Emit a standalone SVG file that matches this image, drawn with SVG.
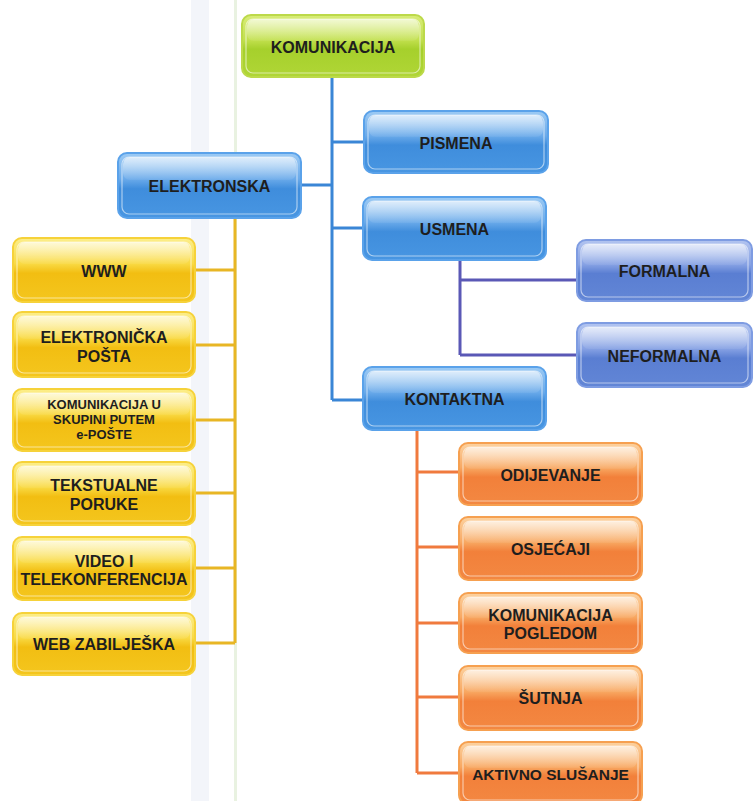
<svg xmlns="http://www.w3.org/2000/svg" width="753" height="801" viewBox="0 0 753 801">
<defs>
<linearGradient id="gGreen" x1="0" y1="0" x2="0" y2="1">
<stop offset="0" stop-color="#d8ec78"/><stop offset="0.4" stop-color="#c2e04e"/><stop offset="0.55" stop-color="#a6d02c"/><stop offset="1" stop-color="#b0d636"/>
</linearGradient>
<linearGradient id="gBlue" x1="0" y1="0" x2="0" y2="1">
<stop offset="0" stop-color="#9ccaf4"/><stop offset="0.4" stop-color="#6aaaea"/><stop offset="0.55" stop-color="#3f8ddc"/><stop offset="1" stop-color="#4896e2"/>
</linearGradient>
<linearGradient id="gViolet" x1="0" y1="0" x2="0" y2="1">
<stop offset="0" stop-color="#b2c4f0"/><stop offset="0.4" stop-color="#87a2e4"/><stop offset="0.55" stop-color="#5a7ed2"/><stop offset="1" stop-color="#6286d6"/>
</linearGradient>
<linearGradient id="gYellow" x1="0" y1="0" x2="0" y2="1">
<stop offset="0" stop-color="#fcee8a"/><stop offset="0.4" stop-color="#f9da44"/><stop offset="0.55" stop-color="#f2be12"/><stop offset="1" stop-color="#f4c61e"/>
</linearGradient>
<linearGradient id="gOrange" x1="0" y1="0" x2="0" y2="1">
<stop offset="0" stop-color="#fcd2a0"/><stop offset="0.4" stop-color="#f8a862"/><stop offset="0.55" stop-color="#f2803a"/><stop offset="1" stop-color="#f38842"/>
</linearGradient>
<linearGradient id="gloss" x1="0" y1="0" x2="0" y2="1">
<stop offset="0" stop-color="#ffffff" stop-opacity="0.7"/><stop offset="1" stop-color="#ffffff" stop-opacity="0.05"/>
</linearGradient>
<style>
.box{stroke-width:2}
.green{fill:url(#gGreen);stroke:#bcd94a}
.blue{fill:url(#gBlue);stroke:#5aa2ea}
.violet{fill:url(#gViolet);stroke:#7e9ce2}
.yellow{fill:url(#gYellow);stroke:#f6d23a}
.orange{fill:url(#gOrange);stroke:#f6a050}
.inner{fill:none;stroke:#ffffff;stroke-opacity:0.55;stroke-width:1.2}
.gl{fill:url(#gloss)}
text{font-family:"Liberation Sans",Arial,sans-serif;font-weight:bold;font-size:16px;fill:#1e1e1e;text-anchor:middle}
.sm{font-size:13px}
.cb{stroke:#3a86d6;stroke-width:3;fill:none}
.cv{stroke:#5a58b6;stroke-width:3;fill:none}
.cy{stroke:#e8b624;stroke-width:3;fill:none}
.co{stroke:#f07a3e;stroke-width:3;fill:none}
</style>
</defs>
<rect x="0" y="0" width="753" height="801" fill="#ffffff"/>
<rect x="191" y="0" width="18" height="801" fill="#f3f5fa"/>
<rect x="234" y="0" width="3" height="801" fill="#e9f2e1"/>

<g id="connectors">
<path class="cb" d="M332 77V400M332 142H364M301 185H332M332 228H363M332 400H363"/>
<path class="cv" d="M460 260V355M460 280H577M460 355H577"/>
<path class="cy" d="M235 218V643M195 270H235M195 345H235M195 420H235M195 493H235M195 568H235M195 643H235"/>
<path class="co" d="M417 430V773M417 472H459M417 547H459M417 623H459M417 697H459M417 773H459"/>
</g>

<g id="komunikacija">
<rect class="box green" x="242" y="15" width="182" height="62" rx="9"/>
<rect class="inner" x="246" y="19" width="174" height="54" rx="7"/>
<rect class="gl" x="247" y="19" width="172" height="22" rx="7"/>
<text x="333" y="53">KOMUNIKACIJA</text>
</g>

<g id="pismena">
<rect class="box blue" x="364" y="111" width="184" height="62" rx="9"/>
<rect class="inner" x="368" y="115" width="176" height="54" rx="7"/>
<rect class="gl" x="369" y="115" width="174" height="22" rx="7"/>
<text x="456" y="149">PISMENA</text>
</g>

<g id="elektronska">
<rect class="box blue" x="118" y="153" width="183" height="65" rx="9"/>
<rect class="inner" x="122" y="157" width="175" height="57" rx="7"/>
<rect class="gl" x="123" y="157" width="173" height="23" rx="7"/>
<text x="209.5" y="192">ELEKTRONSKA</text>
</g>

<g id="usmena">
<rect class="box blue" x="363" y="197" width="183" height="63" rx="9"/>
<rect class="inner" x="367" y="201" width="175" height="55" rx="7"/>
<rect class="gl" x="368" y="201" width="173" height="22" rx="7"/>
<text x="454.5" y="235">USMENA</text>
</g>

<g id="formalna">
<rect class="box violet" x="577" y="240" width="175" height="61" rx="9"/>
<rect class="inner" x="581" y="244" width="167" height="53" rx="7"/>
<rect class="gl" x="582" y="244" width="165" height="21" rx="7"/>
<text x="664.5" y="277">FORMALNA</text>
</g>

<g id="neformalna">
<rect class="box violet" x="577" y="323" width="175" height="64" rx="9"/>
<rect class="inner" x="581" y="327" width="167" height="56" rx="7"/>
<rect class="gl" x="582" y="327" width="165" height="22" rx="7"/>
<text x="664.5" y="362">NEFORMALNA</text>
</g>

<g id="kontaktna">
<rect class="box blue" x="363" y="367" width="183" height="63" rx="9"/>
<rect class="inner" x="367" y="371" width="175" height="55" rx="7"/>
<rect class="gl" x="368" y="371" width="173" height="22" rx="7"/>
<text x="454.5" y="405">KONTAKTNA</text>
</g>

<g id="www">
<rect class="box yellow" x="13" y="238" width="182" height="64" rx="9"/>
<rect class="inner" x="17" y="242" width="174" height="56" rx="7"/>
<rect class="gl" x="18" y="242" width="172" height="22" rx="7"/>
<text x="104" y="277">WWW</text>
</g>

<g id="elektronicka-posta">
<rect class="box yellow" x="13" y="312" width="182" height="65" rx="9"/>
<rect class="inner" x="17" y="316" width="174" height="57" rx="7"/>
<rect class="gl" x="18" y="316" width="172" height="23" rx="7"/>
<text x="104" y="343">ELEKTRONIČKA</text>
<text x="104" y="362">POŠTA</text>
</g>

<g id="komunikacija-u-skupini">
<rect class="box yellow" x="13" y="389" width="182" height="62" rx="9"/>
<rect class="inner" x="17" y="393" width="174" height="54" rx="7"/>
<rect class="gl" x="18" y="393" width="172" height="22" rx="7"/>
<text class="sm" x="104" y="409">KOMUNIKACIJA U</text>
<text class="sm" x="104" y="424">SKUPINI PUTEM</text>
<text class="sm" x="104" y="439">e-POŠTE</text>
</g>

<g id="tekstualne-poruke">
<rect class="box yellow" x="13" y="462" width="182" height="63" rx="9"/>
<rect class="inner" x="17" y="466" width="174" height="55" rx="7"/>
<rect class="gl" x="18" y="466" width="172" height="22" rx="7"/>
<text x="104" y="491">TEKSTUALNE</text>
<text x="104" y="510">PORUKE</text>
</g>

<g id="video-telekonferencija">
<rect class="box yellow" x="13" y="537" width="182" height="63" rx="9"/>
<rect class="inner" x="17" y="541" width="174" height="55" rx="7"/>
<rect class="gl" x="18" y="541" width="172" height="22" rx="7"/>
<text x="104" y="567">VIDEO I</text>
<text x="104" y="585">TELEKONFERENCIJA</text>
</g>

<g id="web-zabiljeska">
<rect class="box yellow" x="13" y="613" width="182" height="62" rx="9"/>
<rect class="inner" x="17" y="617" width="174" height="54" rx="7"/>
<rect class="gl" x="18" y="617" width="172" height="22" rx="7"/>
<text x="104" y="650">WEB ZABILJEŠKA</text>
</g>

<g id="odijevanje">
<rect class="box orange" x="459" y="443" width="183" height="62" rx="9"/>
<rect class="inner" x="463" y="447" width="175" height="54" rx="7"/>
<rect class="gl" x="464" y="447" width="173" height="22" rx="7"/>
<text x="550.5" y="481">ODIJEVANJE</text>
</g>

<g id="osjecaji">
<rect class="box orange" x="459" y="517" width="183" height="63" rx="9"/>
<rect class="inner" x="463" y="521" width="175" height="55" rx="7"/>
<rect class="gl" x="464" y="521" width="173" height="22" rx="7"/>
<text x="550.5" y="555">OSJEĆAJI</text>
</g>

<g id="komunikacija-pogledom">
<rect class="box orange" x="459" y="593" width="183" height="60" rx="9"/>
<rect class="inner" x="463" y="597" width="175" height="52" rx="7"/>
<rect class="gl" x="464" y="597" width="173" height="21" rx="7"/>
<text x="550.5" y="621">KOMUNIKACIJA</text>
<text x="550.5" y="639">POGLEDOM</text>
</g>

<g id="sutnja">
<rect class="box orange" x="459" y="666" width="183" height="64" rx="9"/>
<rect class="inner" x="463" y="670" width="175" height="56" rx="7"/>
<rect class="gl" x="464" y="670" width="173" height="22" rx="7"/>
<text x="550.5" y="704">ŠUTNJA</text>
</g>

<g id="aktivno-slusanje">
<rect class="box orange" x="459" y="742" width="183" height="62" rx="9"/>
<rect class="inner" x="463" y="746" width="175" height="54" rx="7"/>
<rect class="gl" x="464" y="746" width="173" height="22" rx="7"/>
<text x="550.5" y="780" style="font-size:15.5px">AKTIVNO SLUŠANJE</text>
</g>
</svg>
